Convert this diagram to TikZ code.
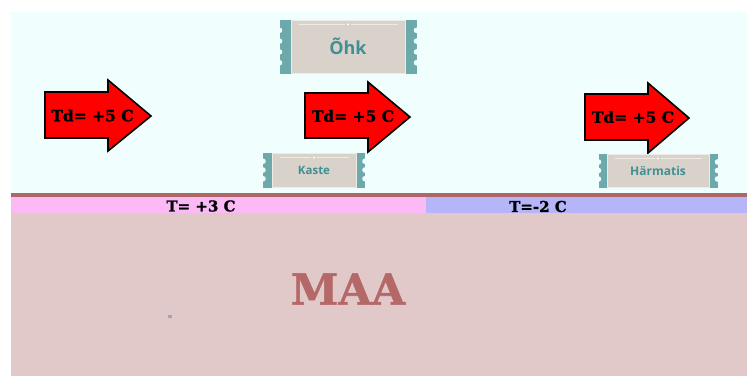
\documentclass[tikz,border=0pt]{standalone}
\usepackage{fontspec}
\usetikzlibrary{calc}
\newfontfamily\slabfont{DejaVu Serif}[FakeBold=1.2]
\newfontfamily\tagfont{Open Sans}
\definecolor{skyc}{HTML}{F0FEFE}
\definecolor{groundc}{HTML}{E2C9C9}
\definecolor{crustc}{HTML}{AE6666}
\definecolor{warmband}{HTML}{FBBAF6}
\definecolor{coldband}{HTML}{B5B5F8}
\definecolor{maac}{HTML}{B56868}
\definecolor{tagbeige}{HTML}{D9D2CB}
\definecolor{tagedge}{HTML}{EEEAE5}
\definecolor{tagteal}{HTML}{6BA9AB}
\definecolor{tagtext}{HTML}{3F9094}
\tikzset{
  x=1pt, y=-1pt,
  heat/.style={fill=red, draw=black, line width=1.6pt, line join=miter},
  heatlabel/.style={inner sep=0pt, font=\slabfont\bfseries\fontsize{15.5}{16}\selectfont},
  bandlabel/.style={inner sep=0pt, font=\slabfont\bfseries\fontsize{15}{16}\selectfont},
  tagbody/.style={rectangle, fill=tagbeige, draw=tagedge, line width=1pt, inner sep=0pt,
    text=tagtext},
}
% teal scalloped strips on both short sides of a tag node
% #1 node name, #2 strip width, #3 number of notches + 1
\newcommand\tagstrips[3]{%
  \fill[tagteal] ([xshift=-#2]#1.north west) rectangle (#1.south west);
  \fill[tagteal] (#1.north east) rectangle ([xshift=#2]#1.south east);
  \foreach \k in {1,...,\numexpr#3-1\relax}{%
    \fill[skyc] ([xshift=-#2]$(#1.north west)!{\k/#3}!(#1.south west)$) circle (2.8pt);
    \fill[skyc] ([xshift=#2]$(#1.north east)!{\k/#3}!(#1.south east)$) circle (2.8pt);
  }
  \draw[tagedge, line width=0.9pt] ([shift={(8pt,-5pt)}]#1.north west) -- ([shift={(-3pt,-5pt)}]#1.north);
  \draw[tagedge, line width=0.9pt] ([shift={(3pt,-5pt)}]#1.north) -- ([shift={(-8pt,-5pt)}]#1.north east);
  \fill[white] ([yshift=-5pt]#1.north) circle (1.1pt);
}
\begin{document}
\begin{tikzpicture}
  \useasboundingbox (0,0) rectangle (747,376);
  \fill[white] (0,0) rectangle (747,376);
  % air, crust line, surface layers and ground
  \fill[skyc] (11,12) rectangle (747,193);
  \fill[crustc] (11,192.5) rectangle (747,196.5);
  \fill[warmband] (11,196.5) rectangle (426,212.5);
  \fill[coldband] (426,196.5) rectangle (747,212.5);
  \fill[groundc] (11,212.5) rectangle (747,376);
  \fill[gray!70] (168,315) rectangle (172,317.5);

  \node[bandlabel] (twarm) at (201,206) {T= +3 C};
  \node[bandlabel] (tcold) at (538,206.5) {T=-2 C};
  \node[inner sep=0pt, text=maac, font=\slabfont\bfseries\fontsize{43}{43}\selectfont] (maa) at (348,289) {MAA};

  % warm air arrows
  \draw[heat] (45,92) -- (108,92) -- (108,80) -- (151,116) -- (108,151) -- (108,138) -- (45,138) -- cycle;
  \node[heatlabel] (td1) at (92.5,115.5) {Td= +5 C};
  \draw[heat] (305,93) -- (368,93) -- (368,82) -- (410,117) -- (368,152) -- (368,138) -- (305,138) -- cycle;
  \node[heatlabel] (td2) at (353,116) {Td= +5 C};
  \draw[heat] (585,94) -- (648,94) -- (648,83) -- (689,118) -- (648,153) -- (648,140) -- (585,140) -- cycle;
  \node[heatlabel] (td3) at (633,117) {Td= +5 C};

  % tags
  \node[tagbody, minimum width=114pt, minimum height=53pt,
        font=\tagfont\bfseries\fontsize{18}{18}\selectfont] (ohk) at (348,46.5) {Õhk};
  \tagstrips{ohk}{11pt}{5}
  \node[tagbody, minimum width=84pt, minimum height=34pt,
        font=\tagfont\bfseries\fontsize{11.5}{12}\selectfont] (kaste) at (314,170) {Kaste};
  \tagstrips{kaste}{8.5pt}{4}
  \node[tagbody, minimum width=102pt, minimum height=33pt,
        font=\tagfont\bfseries\fontsize{12}{12}\selectfont] (harm) at (658,170.5) {Härmatis};
  \tagstrips{harm}{8pt}{4}
\end{tikzpicture}
\end{document}
